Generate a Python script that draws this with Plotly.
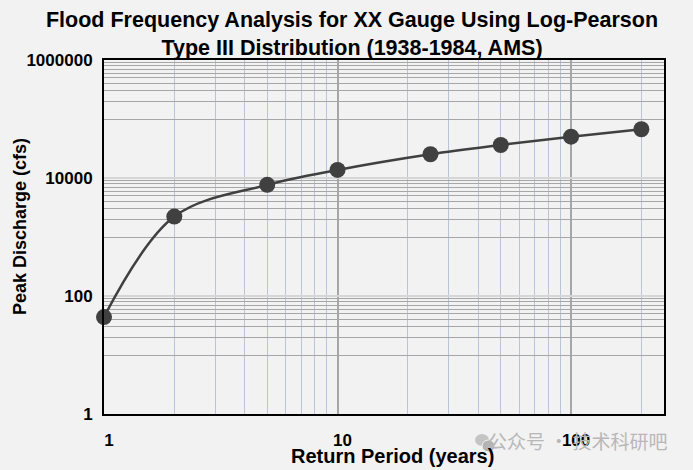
import numpy as np
import plotly.graph_objects as go

# Data
return_period = [1, 2, 5, 10, 25, 50, 100, 200]
peak_discharge = [44, 2220, 7650, 13700, 25300, 36300, 50200, 67000]

x_major = [1, 10, 100]
x_minor = [2, 3, 4, 5, 6, 7, 8, 9, 20, 30, 40, 50, 60, 70, 80, 90, 200]
y_major = [1, 100, 10000, 1000000]
y_major_text = ["1", "100", "10000", "1000000"]
y_minor = [k * 10 ** n for n in (1, 3, 5) for k in range(1, 10)]

title_text = ("Flood Frequency Analysis for XX Gauge Using Log-Pearson<br>"
              "Type III Distribution (1938-1984, AMS)")
x_title = "Return Period (years)"
y_title = "Peak Discharge (cfs)"
watermark = "公众号 · 技术科研吧"

FONT = "Liberation Sans, Arial, sans-serif"
DARK = "#404040"

# plot area in pixels
L, R, T, B = 104, 664, 60, 414
PW, PH = R - L, B - T


def px_x(x):
    return (x - L) / PW


def px_y(y):
    return (B - y) / PH


fig = go.Figure()
fig.add_trace(go.Scatter(
    x=return_period, y=peak_discharge,
    mode="lines+markers",
    line=dict(color=DARK, width=2.5, shape="spline", smoothing=1.0),
    marker=dict(color=DARK, size=16, symbol="circle"),
    cliponaxis=False,
    showlegend=False,
))

fig.update_layout(
    width=693, height=470,
    margin=dict(l=L, r=693 - R, t=T, b=470 - B, autoexpand=False),
    paper_bgcolor="#f2f2f2",
    plot_bgcolor="#f2f2f2",
    title=dict(text=title_text, x=352 / 693, xref="container", xanchor="center",
               y=1 - 27 / 470, yref="container", yanchor="middle",
               automargin=False,
               font=dict(family=FONT, size=21.5, color="black", weight="bold")),
    font=dict(family=FONT, color="black"),
)

fig.update_xaxes(
    type="log", range=[0, np.log10(250)], automargin=False,
    tickmode="array", tickvals=x_major, ticktext=[str(v) for v in x_major],
    tickfont=dict(family=FONT, size=17, color="black", weight="bold"),
    ticks="outside", ticklen=6, tickcolor="rgba(0,0,0,0)",
    ticklabelstandoff=4, ticklabelshift=5,
    showgrid=True, gridcolor="#a6a6a6", gridwidth=1.5,
    minor=dict(tickmode="array", tickvals=x_minor, showgrid=True,
               gridcolor="#b8c4d8", gridwidth=1, ticks=""),
    showline=True, linecolor="black", linewidth=2, mirror=True,
    zeroline=False,
)

fig.update_yaxes(
    type="log", range=[0, 6], automargin=False,
    tickmode="array", tickvals=y_major, ticktext=y_major_text,
    tickfont=dict(family=FONT, size=17, color="black", weight="bold"),
    ticks="outside", ticklen=6, tickcolor="rgba(0,0,0,0)",
    ticklabelstandoff=0,
    showgrid=True, gridcolor="#d6d6d6", gridwidth=1.5,
    minor=dict(tickmode="array", tickvals=y_minor, showgrid=True,
               gridcolor="#a6a6a6", gridwidth=1, ticks=""),
    showline=True, linecolor="black", linewidth=2, mirror=True,
    zeroline=False,
)

# axis titles
fig.add_annotation(
    text=x_title, xref="paper", yref="paper",
    x=px_x(392), y=px_y(456), xanchor="center", yanchor="middle",
    showarrow=False,
    font=dict(family=FONT, size=20, color="black", weight="bold"),
)
fig.add_annotation(
    text=y_title, xref="paper", yref="paper", textangle=-90,
    x=px_x(20), y=px_y(227), xanchor="center", yanchor="middle",
    showarrow=False,
    font=dict(family=FONT, size=18, color="black", weight="bold"),
)

# watermark
fig.add_annotation(
    text=watermark, xref="paper", yref="paper",
    x=px_x(670), y=px_y(440), xanchor="right", yanchor="middle",
    showarrow=False,
    font=dict(family="Noto Sans CJK SC", size=19, color="#b8b8b8"),
)
fig.add_shape(type="circle", xref="paper", yref="paper",
              x0=px_x(475), x1=px_x(489), y0=px_y(446), y1=px_y(434),
              fillcolor="#c4c4c4", line=dict(width=0), layer="above")
fig.add_shape(type="circle", xref="paper", yref="paper",
              x0=px_x(482), x1=px_x(495), y0=px_y(452), y1=px_y(440),
              fillcolor="#b4b4b4", line=dict(color="#f2f2f2", width=1), layer="above")

fig.write_html("out.html", config={"displayModeBar": False},
               post_script="document.body.style.margin='0';")
